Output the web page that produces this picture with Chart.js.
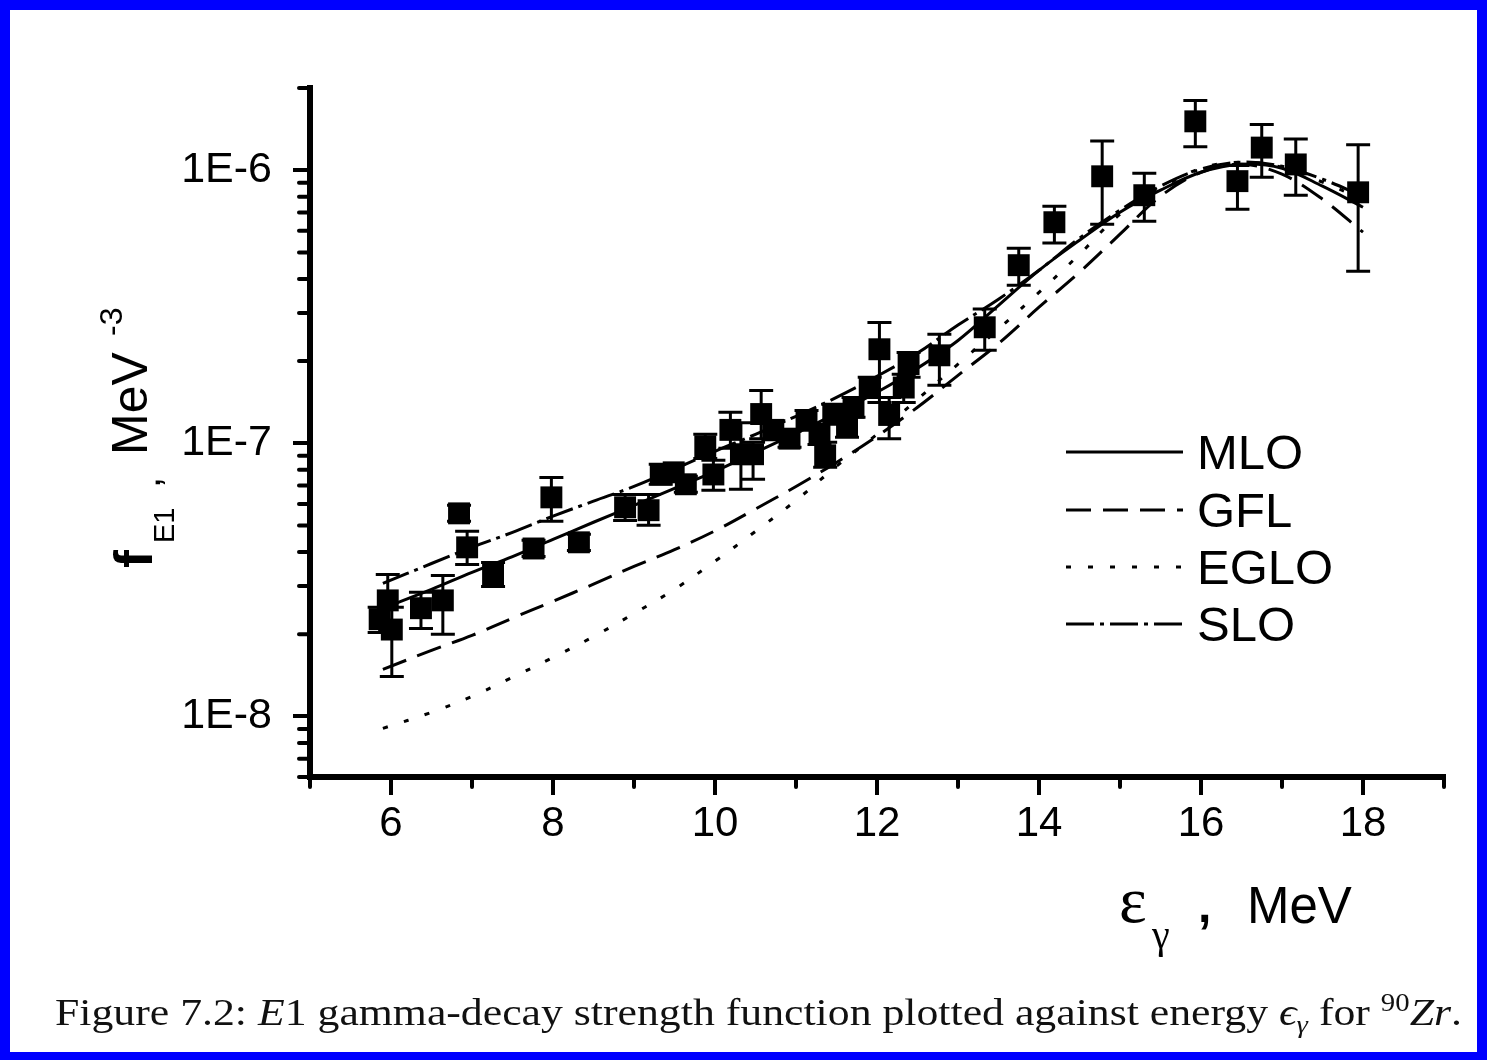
<!DOCTYPE html>
<html>
<head>
<meta charset="utf-8">
<title>E1 strength function, 90Zr</title>
<script src="https://cdn.jsdelivr.net/npm/chart.js@4.4.0/dist/chart.umd.min.js"></script>
<style>
  html, body { margin: 0; padding: 0; background: #0000ff; }
  #frame { position: relative; width: 1487px; height: 1060px; background: #0000ff; overflow: hidden; }
  #sheet { position: absolute; left: 10px; top: 10px; width: 1467px; height: 1042px; background: #fff; }
  #plot { position: absolute; left: 0; top: 0; }
  #caption {
    position: absolute; left: 55px; top: 993px;
    font-family: 'Liberation Serif', 'Times New Roman', serif; font-size: 38px; line-height: 1;
    white-space: nowrap; transform-origin: 0 0; color: #111;
  }
  #caption sub { font-size: 25px; vertical-align: -0.3em; line-height: 0; }
  #caption sup { font-size: 25px; vertical-align: 0.55em; line-height: 0; }
</style>
</head>
<body>
<div id="frame">
  <div id="sheet"></div>
  <canvas id="plot" width="1487" height="1060"></canvas>
  <div id="caption">Figure 7.2: <i>E</i>1 gamma-decay strength function plotted against energy <i>&#x3f5;</i><sub><i>&gamma;</i></sub> for <sup>90</sup><i>Zr</i>.</div>
</div>
<script>
// measured strength function points (MeV, MeV^-3) and error bar ends
const energy = [5.86, 5.96, 6.01, 6.37, 6.64, 6.84, 6.94, 7.26, 7.76, 7.98, 8.32, 8.89, 9.18, 9.33, 9.49,
  9.64, 9.88, 9.98, 10.19, 10.32, 10.47, 10.57, 10.72, 10.92, 11.13, 11.29, 11.36, 11.46, 11.63, 11.71,
  11.91, 12.03, 12.15, 12.33, 12.39, 12.77, 13.33, 13.75, 14.19, 14.78, 15.30, 15.93, 16.45, 16.75, 17.17, 17.94];
const strength = [2.27e-8, 2.66e-8, 2.08e-8, 2.49e-8, 2.66e-8, 5.54e-8, 4.16e-8, 3.31e-8, 4.12e-8, 6.34e-8,
  4.34e-8, 5.83e-8, 5.69e-8, 7.69e-8, 7.83e-8, 7.08e-8, 9.75e-8, 7.69e-8, 1.12e-7, 9.12e-8,
  9.12e-8, 1.28e-7, 1.12e-7, 1.04e-7, 1.21e-7, 1.08e-7, 9.04e-8, 1.28e-7, 1.15e-7, 1.35e-7,
  1.60e-7, 2.21e-7, 1.27e-7, 1.60e-7, 1.95e-7, 2.10e-7, 2.66e-7, 4.49e-7, 6.45e-7, 9.5e-7,
  8.1e-7, 1.51e-6, 9.12e-7, 1.21e-6, 1.05e-6, 8.3e-7];
const errHigh = [2.51e-8, 3.31e-8, 2.51e-8, 2.85e-8, 3.28e-8, 5.93e-8, 4.76e-8, 3.66e-8, 4.42e-8, 7.5e-8,
  4.65e-8, 6.50e-8, 6.50e-8, 8.38e-8, 8.38e-8, 7.57e-8, 1.08e-7, 8.67e-8, 1.30e-7, 1.19e-7,
  1.009e-7, 1.56e-7, 1.21e-7, 1.107e-7, 1.32e-7, 1.175e-7, 1.009e-7, 1.39e-7, 1.245e-7, 1.473e-7,
  1.746e-7, 2.77e-7, 1.47e-7, 1.79e-7, 2.15e-7, 2.51e-7, 3.10e-7, 5.18e-7, 7.38e-7, 1.28e-6,
  9.75e-7, 1.80e-6, 1.04e-6, 1.47e-6, 1.30e-6, 1.24e-6];
const errLow = [2.03e-8, 2.21e-8, 1.40e-8, 2.10e-8, 2.0e-8, 5.18e-8, 3.60e-8, 2.99e-8, 3.85e-8, 5.18e-8,
  4.05e-8, 5.22e-8, 5.01e-8, 7.08e-8, 7.31e-8, 6.62e-8, 8.8e-8, 6.73e-8, 9.6e-8, 6.79e-8,
  7.38e-8, 1.04e-7, 1.03e-7, 9.67e-8, 1.12e-7, 9.91e-8, 8.17e-8, 1.175e-7, 1.052e-7, 1.245e-7,
  1.473e-7, 1.41e-7, 1.04e-7, 1.41e-7, 1.746e-7, 1.63e-7, 2.19e-7, 3.79e-7, 5.41e-7, 6.34e-7,
  6.5e-7, 1.22e-6, 7.19e-7, 9.42e-7, 8.1e-7, 4.27e-7];

// model curves on a common energy grid
const curveE = [5.9, 6.5, 7, 7.5, 8, 8.5, 9, 9.5, 10, 10.5, 11, 11.5, 12, 12.5, 13, 13.5,
  14, 14.5, 15, 15.5, 16, 16.5, 17, 17.5, 18];
const mlo = [2.49e-8, 2.92e-8, 3.37e-8, 3.85e-8, 4.45e-8, 5.14e-8, 5.93e-8, 6.84e-8, 7.89e-8,
  9.27e-8, 1.089e-7, 1.288e-7, 1.538e-7, 1.884e-7, 2.38e-7, 3.20e-7, 4.30e-7, 5.54e-7, 7.02e-7,
  8.45e-7, 9.83e-7, 1.052e-6, 1.017e-6, 8.74e-7, 7.32e-7];
const gfl = [1.486e-8, 1.745e-8, 1.98e-8, 2.29e-8, 2.64e-8, 3.05e-8, 3.54e-8, 4.08e-8, 4.78e-8,
  5.75e-8, 6.95e-8, 8.51e-8, 1.062e-7, 1.355e-7, 1.774e-7, 2.32e-7, 3.15e-7, 4.23e-7, 5.83e-7,
  8.03e-7, 9.83e-7, 1.052e-6, 9.67e-7, 7.83e-7, 5.93e-7];
const eglo = [9.04e-9, 1.035e-8, 1.184e-8, 1.39e-8, 1.644e-8, 1.96e-8, 2.38e-8, 2.92e-8, 3.70e-8,
  4.76e-8, 6.18e-8, 8.24e-8, 1.079e-7, 1.449e-7, 1.95e-7, 2.62e-7, 3.57e-7, 4.92e-7, 6.90e-7,
  8.59e-7, 1.017e-6, 1.07e-6, 1.026e-6, 9.04e-7, 7.83e-7];
const slo = [3.07e-8, 3.63e-8, 4.16e-8, 4.72e-8, 5.41e-8, 6.14e-8, 6.95e-8, 8.04e-8, 9.35e-8,
  1.079e-7, 1.256e-7, 1.473e-7, 1.76e-7, 2.14e-7, 2.71e-7, 3.37e-7, 4.30e-7, 5.64e-7, 7.14e-7,
  8.74e-7, 1.009e-6, 1.07e-6, 1.034e-6, 9.27e-7, 8.03e-7];

// axis ticks
const xTicks = [6, 8, 10, 12, 14, 16, 18];
const xMinor = [5, 7, 9, 11, 13, 15, 17, 19];
const yTicks = [1e-8, 1e-7, 1e-6];
const yTickLabels = ['1E-8', '1E-7', '1E-6'];
const yMin = 6e-9, yMax = 2e-6;

const SANS = "'Liberation Sans', Arial, sans-serif";
const SERIF = "'Liberation Serif', 'Times New Roman', serif";
Chart.defaults.font.family = SANS;
Chart.defaults.color = '#000';

function curve(label, values, dash) {
  return {
    label: label,
    type: 'line',
    data: curveE.map((e, i) => ({ x: e, y: values[i] })),
    borderColor: '#000',
    borderWidth: 3,
    borderDash: dash,
    pointRadius: 0,
    showLine: true,
    fill: false,
    tension: 0.35,
    order: 1
  };
}

// vertical error bars with caps, under the square markers
const errorBars = {
  id: 'errorBars',
  beforeDatasetsDraw(chart) {
    const { ctx, scales: { x, y } } = chart;
    ctx.save();
    ctx.strokeStyle = '#000';
    ctx.lineWidth = 3;
    ctx.beginPath();
    energy.forEach((e, i) => {
      const cx = x.getPixelForValue(e);
      const top = y.getPixelForValue(errHigh[i]);
      const bot = y.getPixelForValue(errLow[i]);
      ctx.moveTo(cx, top); ctx.lineTo(cx, bot);
      ctx.moveTo(cx - 12, top); ctx.lineTo(cx + 12, top);
      ctx.moveTo(cx - 12, bot); ctx.lineTo(cx + 12, bot);
    });
    ctx.stroke();
    ctx.restore();
  }
};

// short minor tick marks on both axes
const minorTicks = {
  id: 'minorTicks',
  afterDraw(chart) {
    const { ctx, chartArea: a, scales: { x, y } } = chart;
    const yMinor = [];
    for (let p = -9; p <= -6; p++) {
      for (let k = 2; k <= 9; k++) {
        const v = k * Math.pow(10, p);
        if (v >= yMin * 0.999 && v <= yMax * 1.001) yMinor.push(v);
      }
    }
    ctx.save();
    ctx.strokeStyle = '#000';
    ctx.lineWidth = 4;
    ctx.lineCap = 'round';
    ctx.beginPath();
    xMinor.forEach(v => {
      const p = x.getPixelForValue(v);
      ctx.moveTo(p, a.bottom); ctx.lineTo(p, a.bottom + 10);
    });
    yMinor.forEach(v => {
      const p = y.getPixelForValue(v);
      ctx.moveTo(a.left, p); ctx.lineTo(a.left - 11, p);
    });
    ctx.stroke();
    ctx.restore();
  }
};

// axis titles and the line legend
const annotations = {
  id: 'annotations',
  afterDraw(chart) {
    const { ctx } = chart;
    ctx.save();
    ctx.fillStyle = '#000';
    ctx.textAlign = 'left';
    ctx.textBaseline = 'alphabetic';

    // y title, rotated: f_E1 , MeV^-3
    ctx.save();
    ctx.rotate(-Math.PI / 2);
    ctx.font = 'bold 54px ' + SANS;
    ctx.fillText('f', -568, 152);
    ctx.font = '29px ' + SANS;
    ctx.fillText('E1', -543, 174);
    ctx.font = '40px ' + SANS;
    ctx.fillText(',', -488, 160);
    ctx.font = '50px ' + SANS;
    ctx.fillText('MeV', -455, 147);
    ctx.font = '32px ' + SANS;
    ctx.fillText('-3', -336, 122);
    ctx.restore();

    // x title: ε_γ , MeV
    ctx.font = '66px ' + SERIF;
    ctx.fillText('\u03b5', 1119, 922);
    ctx.font = '40px ' + SERIF;
    ctx.fillText('\u03b3', 1152, 948);
    ctx.font = 'bold 48px ' + SANS;
    ctx.fillText(',', 1198, 922);
    ctx.font = '51px ' + SANS;
    ctx.fillText('MeV', 1247, 923);

    // legend
    const rows = [452, 510, 567, 624];
    chart.data.datasets.filter(d => d.type === 'line').forEach((d, i) => {
      const ly = rows[i];
      ctx.save();
      ctx.strokeStyle = '#000';
      ctx.lineWidth = 3;
      ctx.setLineDash(d.borderDash);
      ctx.beginPath();
      ctx.moveTo(1066, ly); ctx.lineTo(1183, ly);
      ctx.stroke();
      ctx.restore();
      ctx.font = '49px ' + SANS;
      ctx.fillText(d.label, 1197, ly + 17);
    });
    ctx.restore();
  }
};

new Chart(document.getElementById('plot'), {
  type: 'scatter',
  data: {
    datasets: [
      {
        label: 'data',
        data: energy.map((e, i) => ({ x: e, y: strength[i] })),
        pointStyle: 'rect',
        pointRadius: 15.5,
        backgroundColor: '#000',
        borderColor: '#000',
        borderWidth: 0,
        showLine: false,
        order: 0
      },
      curve('MLO', mlo, []),
      curve('GFL', gfl, [25, 12]),
      curve('EGLO', eglo, [5, 17]),
      curve('SLO', slo, [28, 6, 4, 6])
    ]
  },
  options: {
    responsive: false,
    animation: false,
    devicePixelRatio: 1,
    layout: { padding: { top: 88, right: 43, left: 0, bottom: 0 } },
    plugins: {
      legend: { display: false },
      tooltip: { enabled: false }
    },
    scales: {
      x: {
        type: 'linear',
        min: 5,
        max: 19,
        afterBuildTicks: s => { s.ticks = xTicks.map(v => ({ value: v })); },
        afterFit: s => { s.height = 283; },
        border: { display: true, width: 6, color: '#000' },
        grid: { display: true, drawOnChartArea: false, drawTicks: true, tickLength: 18, tickWidth: 4, tickColor: '#000', lineWidth: 4, color: '#000' },
        ticks: { color: '#000', font: { size: 42 }, padding: 4, maxRotation: 0, autoSkip: false }
      },
      y: {
        type: 'logarithmic',
        min: yMin,
        max: yMax,
        afterBuildTicks: s => { s.ticks = yTicks.map(v => ({ value: v })); },
        afterFit: s => { s.width = 310; },
        border: { display: true, width: 6, color: '#000' },
        grid: { display: true, drawOnChartArea: false, drawTicks: true, tickLength: 17, tickWidth: 4, tickColor: '#000', lineWidth: 4, color: '#000' },
        ticks: {
          color: '#000',
          font: { size: 43 },
          padding: 21,
          autoSkip: false,
          callback: v => { const i = yTicks.indexOf(v); return i >= 0 ? yTickLabels[i] : ''; }
        }
      }
    }
  },
  plugins: [errorBars, minorTicks, annotations]
});

// stretch the caption to the width of the frame text line
const cap = document.getElementById('caption');
cap.style.transform = 'scaleX(' + (1407 / cap.offsetWidth) + ')';
</script>
</body>
</html>
